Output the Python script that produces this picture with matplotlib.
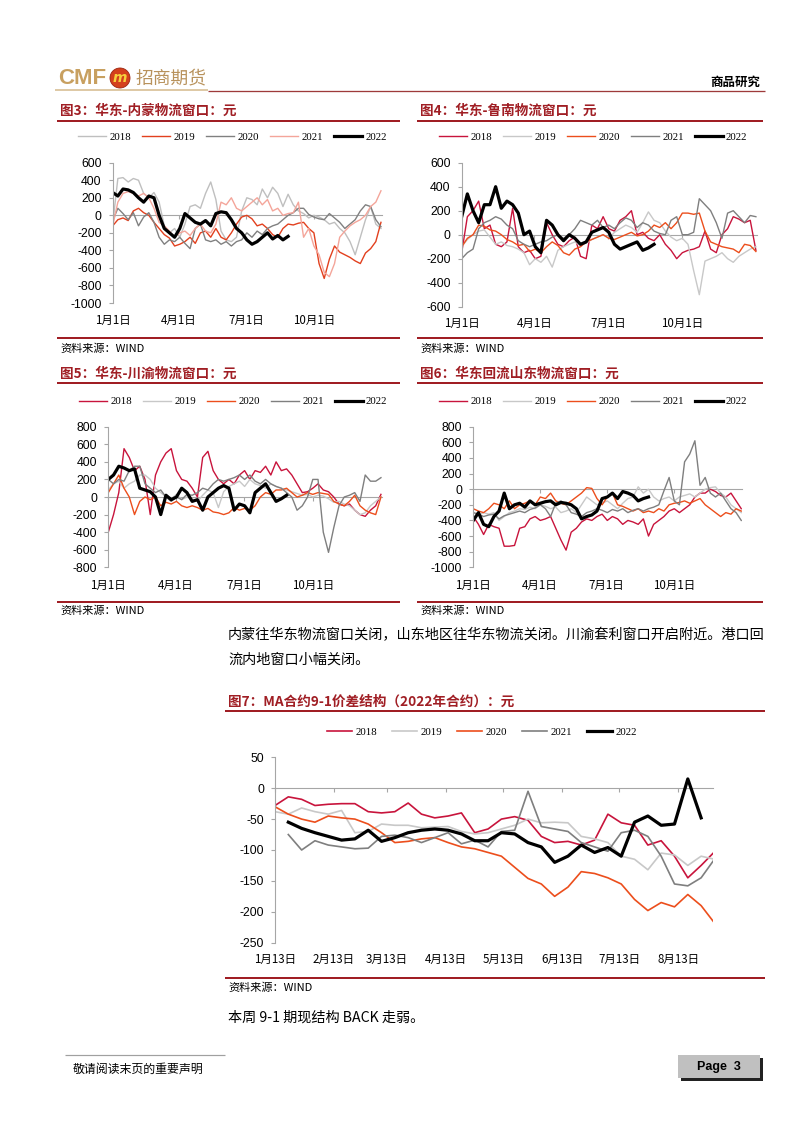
import numpy as np
import matplotlib
matplotlib.use("Agg")
import matplotlib.pyplot as plt
from matplotlib.patches import Circle, Rectangle
from matplotlib.transforms import blended_transform_factory

W, H = 802, 1133
CJK = ['Noto Sans CJK SC', 'DejaVu Sans']
plt.rcParams['font.family'] = CJK
plt.rcParams['axes.unicode_minus'] = False

YEARS = ['2018', '2019', '2020', '2021', '2022']
DAYS = np.arange(0, 365, 7)          # weekly samples, day of year
DAYS7 = np.arange(12, 244, 7)        # weekly samples from 1月13日
nan = np.nan

# 图3 华东-内蒙
fig3_2018 = [-100, 420, 430, 380, 420, 400, 250, 200, 260, 150, -120, -200, -150, -250, -100, 100, 120, 80, 250, 380,
             180, -180, -280, -300, -250, 50, 200, 180, 120, 300, 200, 320, 250, 100, 240, 120, 50, 20, -30, 0,
             -20, -50, -100, -80, -150, -200, -300, -450, -250, -50, 100, -100, -150]
fig3_2019 = [-120, -50, -30, -60, 50, 80, 30, 0, -80, -150, -220, -260, -350, -330, -300, -250, -320, -200, -180, -250,
             -150, -250, -280, -200, -100, -20, 0, -40, -120, -100, -150, -220, -250, -150, -100, -110, -90, -80, -150, -200,
             -550, -720, -500, -350, -420, -450, -480, -520, -550, -430, -380, -300, -80]
fig3_2020 = [-60, 80, 20, -50, 30, -120, -20, 30, -80, -250, -330, -280, -300, -250, -320, -380, -150, -100, -280, -300,
             -280, -330, -300, -350, -300, -280, -200, -250, -180, -220, -150, -120, -100, -50, 0, 30, 80, 80, 10, -20,
             -40, -50, 20, -30, -80, -150, -100, -50, 50, 120, 100, -50, -130]
fig3_2021 = [-120, 150, 250, 270, 250, 220, 250, 200, 80, -80, -120, -180, -250, -200, -180, -230, -150, -100, -180, -200,
             -100, 150, 120, 200, 80, 50, 100, 150, 200, 120, 180, 50, 80, 0, 20, 30, 150, -250, -150, -350,
             -450, -650, -700, -550, -250, -180, -120, -80, -50, 0, 100, 150, 280]
fig3_2022 = [260, 220, 300, 290, 260, 200, 150, 220, 200, 0, -150, -200, -250, -150, 20, -30, -80, -100, -60, -120,
             20, 40, 30, -50, -150, -200, -280, -330, -300, -250, -200, -270, -230, -280, -240]

# 图4 华东-鲁南
fig4_2018 = [-150, 150, 200, 280, 50, 80, -80, -100, -60, 220, -100, -150, -130, -200, -180, 100, 0, -80, -100, -50,
             -20, -180, -200, 80, 50, 150, 50, 30, 120, 150, 200, 0, 20, -30, -50, 0, -80, -130, -200, -150,
             -130, -120, -100, 30, -120, -150, 0, 50, 150, 130, 100, 120, -130]
fig4_2019 = [-100, -40, 0, 30, 40, -20, -80, -60, -90, -100, -120, -150, -250, -200, -230, -180, -270, -130, -100, -80,
             -60, -90, -70, -40, -20, 0, -30, 20, 50, 80, 60, 20, 100, 190, 120, 100, 30, -20, -50, -30,
             -80, -300, -500, -220, -200, -180, -150, -200, -230, -180, -150, -120, -100]
fig4_2020 = [-100, -30, 0, 80, 70, 40, 30, 0, -40, -60, -90, -80, -140, -120, -150, -100, -60, -90, -150, -170,
             -120, -100, -60, -40, -20, 0, -30, -40, -20, 0, 20, -10, 0, 30, 80, 60, 100, 50, 100, 180,
             180, 170, 180, 30, -60, -80, -100, -110, -120, -150, -80, -90, -140]
fig4_2021 = [-200, -150, -120, 50, 100, 120, 150, 130, 80, 50, -50, -80, -100, -80, -60, -50, -20, 0, -30, 0,
             50, 120, 100, 80, 120, 60, 80, 50, 100, 140, 120, 60, 100, 80, 30, 10, 0, 120, 150, 0,
             0, 20, 300, 250, 200, 100, -30, 180, 200, 150, 100, 160, 150]
fig4_2022 = [150, 340, 200, 100, 250, 250, 400, 220, 280, 250, 180, 0, 30, -100, -150, 120, 80, 0, -50, 0,
             -30, -80, -60, 20, 40, 60, 20, -80, -120, -100, -80, -60, -130, -110, -80]

# 图5 华东-川渝
fig5_2018 = [-400, -200, 50, 550, 450, 300, 350, 200, -200, 250, 400, 500, 550, 300, 200, 180, 100, 0, 450, 520,
             300, 200, 150, 200, 150, 250, 300, 200, 300, 280, 350, 250, 400, 300, 320, 250, 150, 50, 60, 100,
             150, 80, 60, 0, -80, -100, -80, -150, -200, -220, -150, -100, 30]
fig5_2019 = [80, 150, 180, 100, 150, 180, 250, 250, 200, 100, 50, 0, -20, 30, -30, 0, -20, -50, 20, 80,
             50, -120, 60, 120, 150, 180, 120, 200, 150, 130, 100, 150, 120, 100, 80, 60, 40, 20, 30, 0,
             20, 10, -20, -60, -50, -80, -100, -150, -200, -180, -100, -50, 0]
fig5_2020 = [50, 150, 250, 100, 0, -200, -50, 0, -30, 0, -100, -60, -80, -50, -100, -120, -100, -120, -150, -130,
             -170, -180, -200, -180, -120, -150, -130, -150, -100, 0, 50, 30, 80, 80, 100, 50, 0, 20, 50, 30,
             50, 40, 30, -50, -80, -100, -50, 20, -100, -150, -180, -200, 0]
fig5_2021 = [200, 150, 200, 180, 300, 350, 350, 150, 100, 50, 80, 0, -50, 0, -30, 30, 20, 50, 100, 80,
             150, 200, 180, 200, 220, 250, 200, 250, 180, 150, 200, 150, 120, 100, 50, 0, -150, -100, 0, 200,
             200, -400, -630, -350, -100, 0, 20, 50, -50, 250, 180, 180, 220]
fig5_2022 = [200, 250, 350, 330, 300, 320, 100, 80, 60, 0, -200, 20, -30, 0, 100, 50, -50, -30, -150, 0,
             50, 100, 130, 100, -150, -80, -100, -180, 50, 100, 150, 50, -50, -20, 20]

# 图6 华东回流山东
fig6_2018 = [-350, -450, -580, -450, -480, -500, -730, -730, -720, -500, -480, -380, -350, -400, -380, -350, -500, -650, -780, -550,
             -500, -420, -380, -400, -350, -320, -400, -350, -380, -450, -400, -420, -450, -380, -600, -450, -400, -350, -280, -250,
             -300, -250, -200, -100, -50, -50, 0, -30, -80, -100, -50, -150, -250]
fig6_2019 = [-350, -330, -300, -320, -300, -400, -350, -300, -280, -250, -260, -230, -250, -200, -220, -250, -230, -300, -280, -250,
             -300, -200, -100, -150, -200, -180, -150, -200, -250, -180, -120, -100, 30, -50, 0, -100, -150, -120, -100, -150,
             -100, -80, -60, -100, -50, 0, 20, 30, -50, -100, -200, -250, -300]
fig6_2020 = [-250, -280, -300, -250, -180, -200, -250, -150, -250, -200, -180, -150, -200, -100, -120, -50, -150, -180, -200, -150,
             -100, -50, 20, 10, -120, -200, -100, -50, -200, -220, -250, -280, -250, -300, -280, -300, -250, -280, -200, -180,
             -170, -150, -180, -150, -120, -200, -250, -300, -350, -300, -320, -250, -280]
fig6_2021 = [-300, -320, -350, -330, -320, -380, -340, -320, -300, -280, -300, -260, -240, -200, -250, -350, -180, -150, -200, -300,
             -320, -350, -300, -280, -250, -270, -300, -260, -280, -250, -300, -270, -250, -280, -250, -230, -200, -20, 150, -150,
             -200, 350, 450, 620, 50, 150, -50, -100, -50, -150, -250, -300, -400]
fig6_2022 = [-400, -300, -450, -480, -350, -280, -50, -250, -200, -180, -230, -150, -200, -180, -160, -150, -200, -170, -180, -200,
             -250, -380, -350, -330, -280, -120, -100, -50, -120, -30, -50, -80, -150, -120, -100]

# 图7 MA 9-1 价差
fig7_2018 = [-28, -14, -18, -28, -26, -25, -25, -38, -40, -38, -24, -42, -48, -45, -40, -72, -66, -50, -46, -52,
             -78, -88, -86, -92, -84, -42, -56, -60, -92, -85, -110, -145, -125, -103]
fig7_2019 = [-38, -42, -32, -38, -42, -36, -72, -70, -58, -60, -60, -64, -63, -62, -70, -74, -72, -66, -60, -50,
             -56, -55, -56, -78, -82, -88, -110, -115, -132, -105, -108, -125, -110, -115]
fig7_2020 = [-30, -42, -50, -55, -45, -48, -50, -58, -72, -88, -86, -82, -80, -88, -95, -98, -104, -110, -128, -146,
             -155, -175, -160, -135, -138, -145, -155, -180, -198, -185, -192, -172, -190, -218]
fig7_2021 = [nan, -75, -100, -85, -92, -95, -98, -97, -78, -76, -80, -88, -80, -72, -90, -84, -95, -70, -68, -5,
             -62, -66, -70, -88, -95, -102, -72, -68, -78, -110, -155, -158, -145, -115]
fig7_2022 = [nan, -55, -65, -72, -78, -84, -82, -68, -86, -80, -72, -68, -66, -68, -74, -85, -85, -72, -74, -88,
             -95, -120, -110, -92, -104, -96, -110, -55, -45, -60, -58, 15, -48]

MONTH_TICKS = [0, 90, 181, 273]
MONTH_LABELS = ['1月1日', '4月1日', '7月1日', '10月1日']
TICKS7 = [12, 43, 71, 102, 132, 163, 193, 224]
LABELS7 = ['1月13日', '2月13日', '3月13日', '4月13日', '5月13日', '6月13日', '7月13日', '8月13日']

COLORS_A = ['#BFBFBF', '#E2401E', '#808080', '#F4A59A', '#000000']
COLORS_B = ['#C8143C', '#C8C8C8', '#EC4E1C', '#7F7F7F', '#000000']
DARK_RED = '#A01E24'
AXIS_GRAY = '#A6A6A6'

fig = plt.figure(figsize=(W / 100, H / 100), dpi=100)
fig.patch.set_facecolor('white')
page = fig.add_axes([0, 0, 1, 1])
page.set_xlim(0, W)
page.set_ylim(H, 0)
page.axis('off')


def hline(x0, x1, y, color, lw_px):
    page.plot([x0, x1], [y, y], color=color, lw=lw_px * 0.72, solid_capstyle='butt')


def panel(box, days, series, colors, xlim, ylim, ystep, ticks, labels, label_y, leg_xy,
          hl=2.6, cs=1.0, lw=1.0):
    x0, y0, x1, y1 = box
    ax = fig.add_axes([x0 / W, 1 - y1 / H, (x1 - x0) / W, (y1 - y0) / H])
    ax.patch.set_alpha(0)
    for year, vals, col in zip(YEARS, series, colors):
        vals = np.asarray(vals, dtype=float)
        width = 2.3 if year == '2022' else lw
        ax.plot(days[:len(vals)], vals, color=col, lw=width, label=year)
    ax.set_xlim(*xlim)
    ax.set_ylim(*ylim)
    ax.set_yticks(np.arange(ylim[0], ylim[1] + 1, ystep))
    for s in ['top', 'right']:
        ax.spines[s].set_visible(False)
    ax.spines['bottom'].set_position(('data', 0))
    ax.spines['bottom'].set_color(AXIS_GRAY)
    ax.spines['left'].set_color(AXIS_GRAY)
    ax.spines['bottom'].set_zorder(0.5)
    ax.set_xticks(ticks)
    ax.tick_params(axis='x', direction='out', length=3, color=AXIS_GRAY, labelbottom=False)
    ax.tick_params(axis='y', direction='out', length=3, color=AXIS_GRAY, pad=5,
                   labelsize=8.8, labelfontfamily='Liberation Sans')
    trans = blended_transform_factory(ax.transData, page.transData)
    for t, lab in zip(ticks, labels):
        page.text(t, label_y, lab, transform=trans, ha='center', va='center', fontsize=8.3)
    ax.legend(loc='center', bbox_to_anchor=leg_xy, bbox_transform=page.transData, ncol=5,
              frameon=False, prop=dict(family='Liberation Serif', size=7.8), handlelength=hl,
              handletextpad=0.3, columnspacing=cs, borderpad=0, borderaxespad=0)
    return ax


# header
page.text(58, 78, 'CMF', fontsize=16, fontweight='bold', color='#C8A060', family='Liberation Sans',
          ha='left', va='center')
page.add_patch(Circle((120, 78), 10, facecolor='#D4401C', edgecolor='#9C2410', lw=0.6))
page.text(120, 78.5, 'm', fontsize=10, fontweight='bold', style='italic', color='#F6CF3C',
          family='DejaVu Sans', ha='center', va='center')
page.text(136, 78, '招商期货', fontsize=12.8, color='#B8925C', ha='left', va='center')
page.text(760, 82.5, '商品研究', fontsize=9, fontweight='bold', ha='right', va='center')
hline(55, 208, 89.5, '#D6BC90', 1.6)
hline(208, 765, 90.5, '#9E3A3A', 1.3)

# titles, rules and sources
titles = [(60, 110.5, '图3：华东-内蒙物流窗口：元'), (420, 110.5, '图4：华东-鲁南物流窗口：元'),
          (60, 373.3, '图5：华东-川渝物流窗口：元'), (420, 373.3, '图6：华东回流山东物流窗口：元'),
          (228, 702, '图7：MA合约9-1价差结构（2022年合约）：元')]
for x, y, s in titles:
    page.text(x, y, s, fontsize=9.8, fontweight='bold', color=DARK_RED, ha='left', va='center')
for x0, x1, y in [(56.7, 400, 120.7), (416.7, 762.7, 120.7), (56.7, 400, 382.7), (416.7, 762.7, 382.7),
                  (225, 765, 710.5), (56.7, 400, 338.3), (416.7, 762.7, 338.3), (56.7, 400, 602.3),
                  (416.7, 762.7, 602.3), (225, 765, 977.7)]:
    hline(x0, x1, y, DARK_RED, 2.0)
for x, y in [(60, 348.5), (420, 348.5), (60, 610.7), (420, 610.7), (228, 987.3)]:
    page.text(x, y, '资料来源：WIND', fontsize=8, ha='left', va='center')

# charts
panel((112.7, 162.7, 381.7, 303), DAYS, [fig3_2018, fig3_2019, fig3_2020, fig3_2021, fig3_2022], COLORS_A,
      (0, 365), (-1000, 600), 200, MONTH_TICKS, MONTH_LABELS, 320.7, (232.5, 137.3))
panel((461.7, 162.7, 756.7, 306.7), DAYS, [fig4_2018, fig4_2019, fig4_2020, fig4_2021, fig4_2022], COLORS_B,
      (0, 365), (-600, 600), 200, MONTH_TICKS, MONTH_LABELS, 323.3, (593.3, 137.3))
panel((108.3, 426.7, 381.7, 567.3), DAYS, [fig5_2018, fig5_2019, fig5_2020, fig5_2021, fig5_2022], COLORS_B,
      (0, 365), (-800, 800), 200, MONTH_TICKS, MONTH_LABELS, 585.3, (233.3, 401.7))
panel((473.3, 426.7, 742, 567.3), DAYS, [fig6_2018, fig6_2019, fig6_2020, fig6_2021, fig6_2022], COLORS_B,
      (0, 365), (-1000, 800), 200, MONTH_TICKS, MONTH_LABELS, 585, (593.3, 401.7))
panel((275, 757.3, 713.3, 942.7), DAYS7, [fig7_2018, fig7_2019, fig7_2020, fig7_2021, fig7_2022], COLORS_B,
      (12, 242.4), (-250, 50), 50, TICKS7, LABELS7, 959.3, (482, 732.3), hl=2.3, cs=1.4, lw=1.2)

# body text
page.text(228, 635, '内蒙往华东物流窗口关闭，山东地区往华东物流关闭。川渝套利窗口开启附近。港口回',
          fontsize=10.2, ha='left', va='center')
page.text(228, 659.5, '流内地窗口小幅关闭。', fontsize=10.2, ha='left', va='center')
page.text(228, 1018, '本周 9-1 期现结构 BACK 走弱。', fontsize=10.2, ha='left', va='center')

# footer
hline(65, 225, 1055, '#A0A0A0', 1.2)
page.text(73, 1069, '敬请阅读末页的重要声明', fontsize=8.6, ha='left', va='center')
page.add_patch(Rectangle((680.5, 1057.5), 82, 23, facecolor='#222222', edgecolor='none'))
page.add_patch(Rectangle((678, 1055), 82, 23, facecolor='#C0C0C0', edgecolor='none'))
page.text(719, 1067, 'Page  3', fontsize=9, fontweight='bold', family='Liberation Sans', ha='center', va='center')

fig.savefig('out.png', dpi=100, facecolor='white')
